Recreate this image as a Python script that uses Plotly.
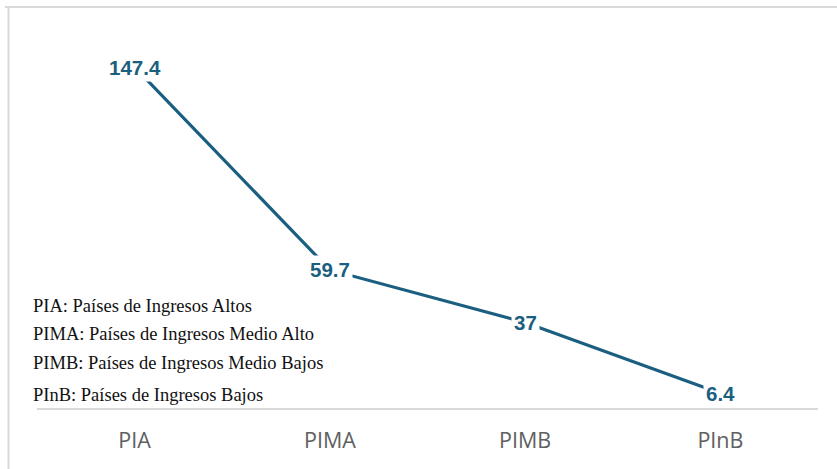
import plotly.graph_objects as go

categories = ["PIA", "PIMA", "PIMB", "PInB"]
values = [147.4, 59.7, 37, 6.4]
value_labels = ["147.4", "59.7", "37", "6.4"]
notes = [
    "PIA: Países de Ingresos Altos",
    "PIMA: Países de Ingresos Medio Alto",
    "PIMB: Países de Ingresos Medio Bajos",
    "PInB: Países de Ingresos Bajos",
]

W, H = 837, 469
L, R, T, B = 37, 19, 38, 61
line_color = "#1b5f80"

fig = go.Figure()
fig.add_trace(go.Scatter(
    x=categories, y=values, mode="lines",
    line=dict(color=line_color, width=3.2),
    hoverinfo="skip", showlegend=False,
))

for c, v, t in zip(categories, values, value_labels):
    fig.add_annotation(
        x=c, y=v, text="<b>" + t + "</b>", showarrow=False,
        font=dict(family="Liberation Sans", size=20.5, color=line_color),
        bgcolor="white", borderpad=2, xanchor="center", yanchor="middle",
    )

pw = W - L - R
ph = H - T - B
note_y = [306, 334, 363, 395]
for txt, py in zip(notes, note_y):
    fig.add_annotation(
        xref="paper", yref="paper",
        x=(31 - L) / pw, y=(H - B - py) / ph,
        text=txt, showarrow=False, xanchor="left", yanchor="middle",
        font=dict(family="Liberation Serif, Times New Roman, serif", size=18.5, color="#111"),
    )

# frame lines
fig.add_shape(type="line", xref="paper", yref="paper",
              x0=(5 - L) / pw, x1=(W - L) / pw,
              y0=(H - B - 7) / ph, y1=(H - B - 7) / ph,
              line=dict(color="#d9d9d9", width=2), layer="below")
fig.add_shape(type="line", xref="paper", yref="paper",
              x0=(8.5 - L) / pw, x1=(8.5 - L) / pw,
              y0=(H - B - 7) / ph, y1=(H - B - H) / ph,
              line=dict(color="#d9d9d9", width=2), layer="below")

fig.update_layout(
    width=W, height=H,
    margin=dict(l=L, r=R, t=T, b=B, pad=0),
    paper_bgcolor="white", plot_bgcolor="white",
    xaxis=dict(
        type="category", range=[-0.5, 3.5], showgrid=False, zeroline=False,
        showline=True, linecolor="#d9d9d9", linewidth=2,
        ticks="outside", ticklen=12, tickcolor="rgba(0,0,0,0)",
        tickfont=dict(family="Open Sans", size=21.5, color="#606060"),
        fixedrange=True,
    ),
    yaxis=dict(range=[0, 160], visible=False, showgrid=False, zeroline=False, fixedrange=True),
    showlegend=False,
)

fig.write_html("out.html")
